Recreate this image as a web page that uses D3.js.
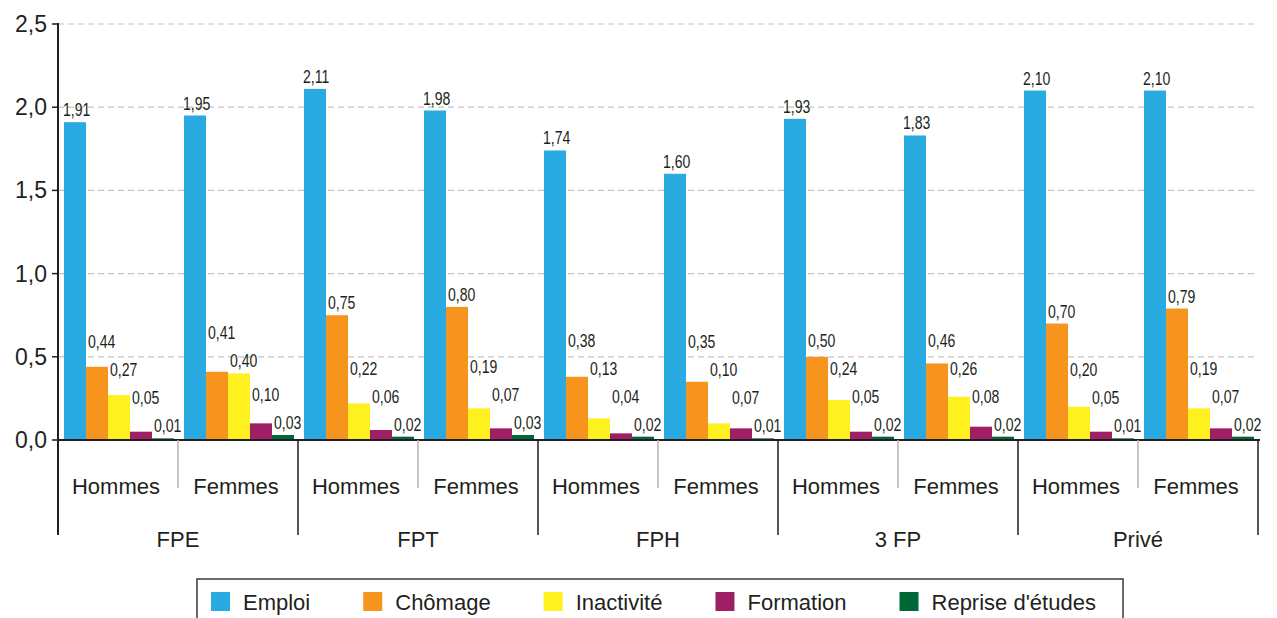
<!DOCTYPE html>
<html>
<head>
<meta charset="utf-8">
<script src="https://cdn.jsdelivr.net/npm/d3@7"></script>
<style>
    body { margin: 0; background: #fff; }
    svg { display: block; }
    text { fill: #231f20; }
</style>
</head>
<body>
<svg id="base" width="1277" height="618"></svg>
<script>
const groups = ["FPE", "FPT", "FPH", "3 FP", "Privé"];
const sexes = ["Hommes", "Femmes"];
const seriesNames = ["Emploi", "Chômage", "Inactivité", "Formation", "Reprise d'études"];
const seriesColors = ["#29abe2", "#f7941d", "#fff01f", "#9e1f63", "#006837"];

// one value per group x sex : FPE H, FPE F, FPT H, FPT F, ...
const emploi = [1.91, 1.95, 2.11, 1.98, 1.74, 1.60, 1.93, 1.83, 2.10, 2.10];
const chomage = [0.44, 0.41, 0.75, 0.80, 0.38, 0.35, 0.50, 0.46, 0.70, 0.79];
const inactivite = [0.27, 0.40, 0.22, 0.19, 0.13, 0.10, 0.24, 0.26, 0.20, 0.19];
const formation = [0.05, 0.10, 0.06, 0.07, 0.04, 0.07, 0.05, 0.08, 0.05, 0.07];
const reprise = [0.01, 0.03, 0.02, 0.03, 0.02, 0.01, 0.02, 0.02, 0.01, 0.02];

const yTicks = [0, 0.5, 1.0, 1.5, 2.0, 2.5];

(function () {
    const series = [emploi, chomage, inactivite, formation, reprise];
    const svg = d3.select("#base");
    const fmt = (v) => d3.format(".2f")(v).replace(".", ",");
    const fmtTick = (v) => d3.format(".1f")(v).replace(".", ",");

    const left = 58, right = 1258, top = 24, bottom = 440;

    // scales

    const x0 = d3.scaleBand().domain(groups).range([left, right]);
    const x1 = d3.scaleBand().domain(sexes).range([0, x0.bandwidth()]);
    const x2 = d3.scaleBand().domain(d3.range(series.length)).range([6, 116]);
    const y = d3.scaleLinear().domain([0, 2.5]).range([bottom, top]);

    // grid

    svg.append("g")
        .selectAll("line")
        .data(yTicks.filter((d) => d > 0))
        .enter()
        .append("line")
        .attr("x1", left)
        .attr("x2", right)
        .attr("y1", (d) => y(d))
        .attr("y2", (d) => y(d))
        .attr("stroke", "#c4c4c4")
        .attr("stroke-width", 1.2)
        .attr("stroke-dasharray", "6,4");

    // bars + labels

    const cells = [];
    groups.forEach((g, gi) => {
        sexes.forEach((s, si) => {
            const idx = gi * sexes.length + si;
            cells.push({ g, s, vals: series.map((arr) => arr[idx]) });
        });
    });

    const cell = svg.selectAll("g.cell")
        .data(cells)
        .enter()
        .append("g")
        .attr("class", "cell")
        .attr("transform", (d) => `translate(${x0(d.g) + x1(d.s)},0)`);

    cell.selectAll("rect")
        .data((d) => d.vals)
        .enter()
        .append("rect")
        .attr("x", (d, i) => x2(i))
        .attr("width", x2.bandwidth())
        .attr("y", (d) => y(d))
        .attr("height", (d) => bottom - y(d))
        .attr("fill", (d, i) => seriesColors[i]);

    // labels staggered right to left so they don't collide
    // (no narrow font installed -> squeeze Liberation Sans horizontally)
    cell.each(function (d) {
        const pos = [];
        for (let i = d.vals.length - 1; i >= 0; i--) {
            let b = y(d.vals[i]) - 6;
            if (i < d.vals.length - 1) b = Math.min(b, pos[i + 1] - 28);
            pos[i] = b;
        }
        d3.select(this)
            .selectAll("text")
            .data(d.vals)
            .enter()
            .append("text")
            .attr("transform", (v, i) =>
                `translate(${x2(i) + (i === 0 ? -1 : 2)},${pos[i]}) scale(0.74,1)`)
            .style("font-family", "'Liberation Sans', Arial, sans-serif")
            .style("font-size", "19px")
            .text((v) => fmt(v));
    });

    // y axis

    const yAxis = svg.append("g");
    yAxis.append("line")
        .attr("x1", left).attr("x2", left)
        .attr("y1", top - 1).attr("y2", bottom + 95)
        .attr("stroke", "#231f20").attr("stroke-width", 2);
    yAxis.selectAll("line.tick")
        .data(yTicks)
        .enter()
        .append("line")
        .attr("class", "tick")
        .attr("x1", left - 6).attr("x2", left)
        .attr("y1", (d) => y(d)).attr("y2", (d) => y(d))
        .attr("stroke", "#231f20").attr("stroke-width", 1.5);
    yAxis.selectAll("text")
        .data(yTicks)
        .enter()
        .append("text")
        .attr("x", left - 11)
        .attr("y", (d) => y(d))
        .attr("dy", "0.35em")
        .attr("text-anchor", "end")
        .style("font-family", "'Liberation Sans', Arial, sans-serif")
        .style("font-size", "23px")
        .text((d) => fmtTick(d));

    // x axis

    svg.append("line")
        .attr("x1", left).attr("x2", right + 2)
        .attr("y1", bottom).attr("y2", bottom)
        .attr("stroke", "#231f20").attr("stroke-width", 2);

    svg.selectAll("line.sep")
        .data(groups.concat([null]))
        .enter()
        .append("line")
        .attr("class", "sep")
        .attr("x1", (d) => (d ? x0(d) : right))
        .attr("x2", (d) => (d ? x0(d) : right))
        .attr("y1", bottom).attr("y2", bottom + 95)
        .attr("stroke", "#231f20").attr("stroke-width", 1.5);

    svg.selectAll("line.subsep")
        .data(groups)
        .enter()
        .append("line")
        .attr("class", "subsep")
        .attr("x1", (d) => x0(d) + x1("Femmes"))
        .attr("x2", (d) => x0(d) + x1("Femmes"))
        .attr("y1", bottom).attr("y2", bottom + 48)
        .attr("stroke", "#b3b3b3").attr("stroke-width", 1.5);

    svg.selectAll("text.sex")
        .data(cells)
        .enter()
        .append("text")
        .attr("class", "sex")
        .attr("x", (d) => x0(d.g) + x1(d.s) + x1.bandwidth() / 2 - 2)
        .attr("y", bottom + 54)
        .attr("text-anchor", "middle")
        .style("font-family", "'Liberation Sans', Arial, sans-serif")
        .style("font-size", "22px")
        .text((d) => d.s);

    svg.selectAll("text.group")
        .data(groups)
        .enter()
        .append("text")
        .attr("class", "group")
        .attr("x", (d) => x0(d) + x0.bandwidth() / 2)
        .attr("y", bottom + 107)
        .attr("text-anchor", "middle")
        .style("font-family", "'Liberation Sans', Arial, sans-serif")
        .style("font-size", "22px")
        .text((d) => d);

    // legend

    const legend = svg.append("g");
    legend.append("rect")
        .attr("x", 197).attr("y", 579)
        .attr("width", 926).attr("height", 60)
        .attr("fill", "none")
        .attr("stroke", "#3a3a3a").attr("stroke-width", 1.5);

    let lx = 211;
    seriesNames.forEach((name, i) => {
        legend.append("rect")
            .attr("x", lx).attr("y", 592)
            .attr("width", 19).attr("height", 19)
            .attr("fill", seriesColors[i]);
        const t = legend.append("text")
            .attr("x", lx + 32).attr("y", 610)
            .style("font-family", "'Liberation Sans', Arial, sans-serif")
            .style("font-size", "22px")
            .text(name);
        lx += 32 + t.node().getComputedTextLength() + 53;
    });
})();
</script>
</body>
</html>
